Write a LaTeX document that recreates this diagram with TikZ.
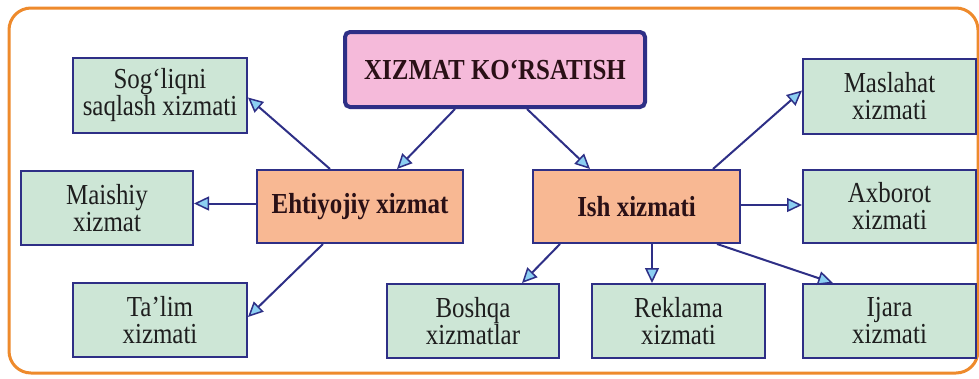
\documentclass[tikz,border=0pt]{standalone}
\usepackage{fontspec}
\setmainfont{Liberation Serif}[FakeStretch=0.86]
\usetikzlibrary{arrows.meta}
\definecolor{navy}{HTML}{2E2F86}
\definecolor{mint}{HTML}{CDE6D6}
\definecolor{peach}{HTML}{F8B893}
\definecolor{pinkf}{HTML}{F5BADA}
\definecolor{tipblue}{HTML}{8CCFF2}
\definecolor{frameor}{HTML}{EE8A2C}
\definecolor{txt}{HTML}{1E1E1E}
\definecolor{btxt}{HTML}{2A1016}
\tikzset{
  box/.style={draw=navy, line width=2pt, rectangle, align=center, inner sep=0pt,
    font=\fontsize{29}{27}\selectfont, text=txt},
  leaf/.style={box, fill=mint},
  mid/.style={box, fill=peach, font=\fontsize{29}{27}\selectfont\bfseries, text=btxt},
  root/.style={box, fill=pinkf, line width=4pt, rounded corners=5pt,
    font=\fontsize{29}{27}\selectfont\bfseries, text=btxt},
  conn/.style={draw=navy, line width=2pt,
    -{Triangle[length=15pt,width=14pt,fill=tipblue,line width=1.5pt]}},
}
\begin{document}
\begin{tikzpicture}[x=1pt,y=-1pt]
\useasboundingbox (0,0) rectangle (979,378);
\fill[white] (0,0) rectangle (979,378);
\draw[frameor, line width=3pt, rounded corners=22pt] (9,8) rectangle (978,373);

\node[root, minimum width=300, minimum height=75] (top) at (495,69.5) {XIZMAT KO‘RSATISH};
\node[mid, minimum width=206, minimum height=73] (eht) at (360,206.5) {Ehtiyojiy xizmat};
\node[mid, minimum width=207, minimum height=73] (ish) at (636.5,206.5) {Ish xizmati};

\node[leaf, minimum width=174, minimum height=75] (sog) at (160,95.5) {Sog‘liqni\\saqlash xizmati};
\node[leaf, minimum width=172, minimum height=74] (mai) at (107,208) {Maishiy\\xizmat};
\node[leaf, minimum width=174, minimum height=74] (tal) at (160,320) {Ta’lim\\xizmati};
\node[leaf, minimum width=172, minimum height=74] (bos) at (473,321) {Boshqa\\xizmatlar};
\node[leaf, minimum width=173, minimum height=74] (rek) at (678.5,321) {Reklama\\xizmati};
\node[leaf, minimum width=173, minimum height=74] (ija) at (889.5,321) {Ijara\\xizmati};
\node[leaf, minimum width=173, minimum height=75] (mas) at (889.5,96.5) {Maslahat\\xizmati};
\node[leaf, minimum width=173, minimum height=73] (axb) at (889.5,206.5) {Axborot\\xizmati};

\draw[conn] ([xshift=-40pt]top.south) -- ([xshift=37pt]eht.north);
\draw[conn] ([xshift=32pt]top.south) -- ([xshift=-46.5pt]ish.north);
\draw[conn] ([xshift=-30pt]eht.north) -- ([yshift=-2pt]sog.east);
\draw[conn] ([yshift=3pt]eht.west) -- ([yshift=3pt]eht.west -| mai.east);
\draw[conn] ([xshift=-37pt]eht.south) -- ([yshift=3pt]tal.east);
\draw[conn] ([xshift=76.5pt]ish.north) -- ([yshift=6pt]mas.west);
\draw[conn] ([yshift=1.5pt]ish.east) -- ([yshift=1.5pt]ish.east -| axb.west);
\draw[conn] ([xshift=-76.5pt]ish.south) -- ([xshift=49pt]bos.north);
\draw[conn] ([xshift=15.5pt]ish.south) -- ([xshift=-26.5pt]rek.north);
\draw[conn] ([xshift=80.5pt]ish.south) -- ([xshift=-56.5pt]ija.north);
\end{tikzpicture}
\end{document}
